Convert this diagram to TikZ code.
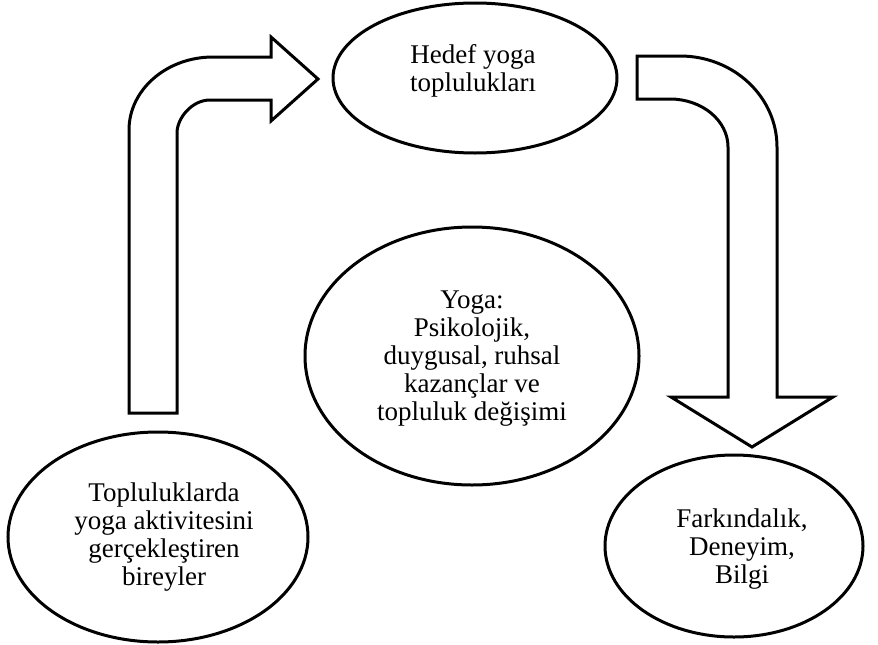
\documentclass[tikz,border=0pt]{standalone}
\usepackage{fontspec}
\setmainfont{Liberation Serif}
\usetikzlibrary{shapes.geometric}
\begin{document}
\begin{tikzpicture}[x=1pt,y=-1pt,
  oval/.style={draw=black,line width=3pt,ellipse,inner sep=0pt},
  lbl/.style={align=center,font=\fontsize{27}{28}\selectfont,inner sep=0pt},
  blockarrow/.style={draw=black,line width=3pt,line join=miter,fill=white}]
\useasboundingbox (0,0) rectangle (878,645);
% ovals
\node[oval,minimum width=284pt,minimum height=150pt] (hedef) at (475,78) {};
\node[oval,minimum width=334pt,minimum height=258pt] (yoga) at (472,356) {};
\node[oval,minimum width=300pt,minimum height=210pt] (bireyler) at (158,537) {};
\node[oval,minimum width=258pt,minimum height=182pt] (farkindalik) at (734,546) {};
% texts
\node[lbl] (hedefT) at (473,71) {Hedef yoga\\toplulukları};
\node[lbl] (yogaT) at (472,359) {Yoga:\\Psikolojik,\\duygusal, ruhsal\\kazançlar ve\\topluluk değişimi};
\node[lbl] (bireylerT) at (164,537) {Topluluklarda\\yoga aktivitesini\\gerçekleştiren\\bireyler};
\node[lbl] (farkindalikT) at (742,549) {Farkındalık,\\Deneyim,\\Bilgi};
% left block arrow (up then right)
\draw[blockarrow] (129,413) -- (129,130)
  .. controls (129,89.7) and (166.6,57) .. (213,57)
  -- (271,57) -- (271,37) -- (318,79) -- (271,121) -- (271,100) -- (210,100)
  .. controls (191.8,100) and (177,118.2) .. (177,133)
  -- (177,413) -- cycle;
% right block arrow (right then down)
\draw[blockarrow] (637,56) -- (680,56)
  .. controls (733.6,56) and (777,96.7) .. (777,147)
  -- (777,397) -- (833,397) -- (752,447) -- (671,397) -- (728,397) -- (728,147)
  .. controls (728,120.5) and (702,99) .. (670,99)
  -- (637,99) -- cycle;
\end{tikzpicture}
\end{document}
